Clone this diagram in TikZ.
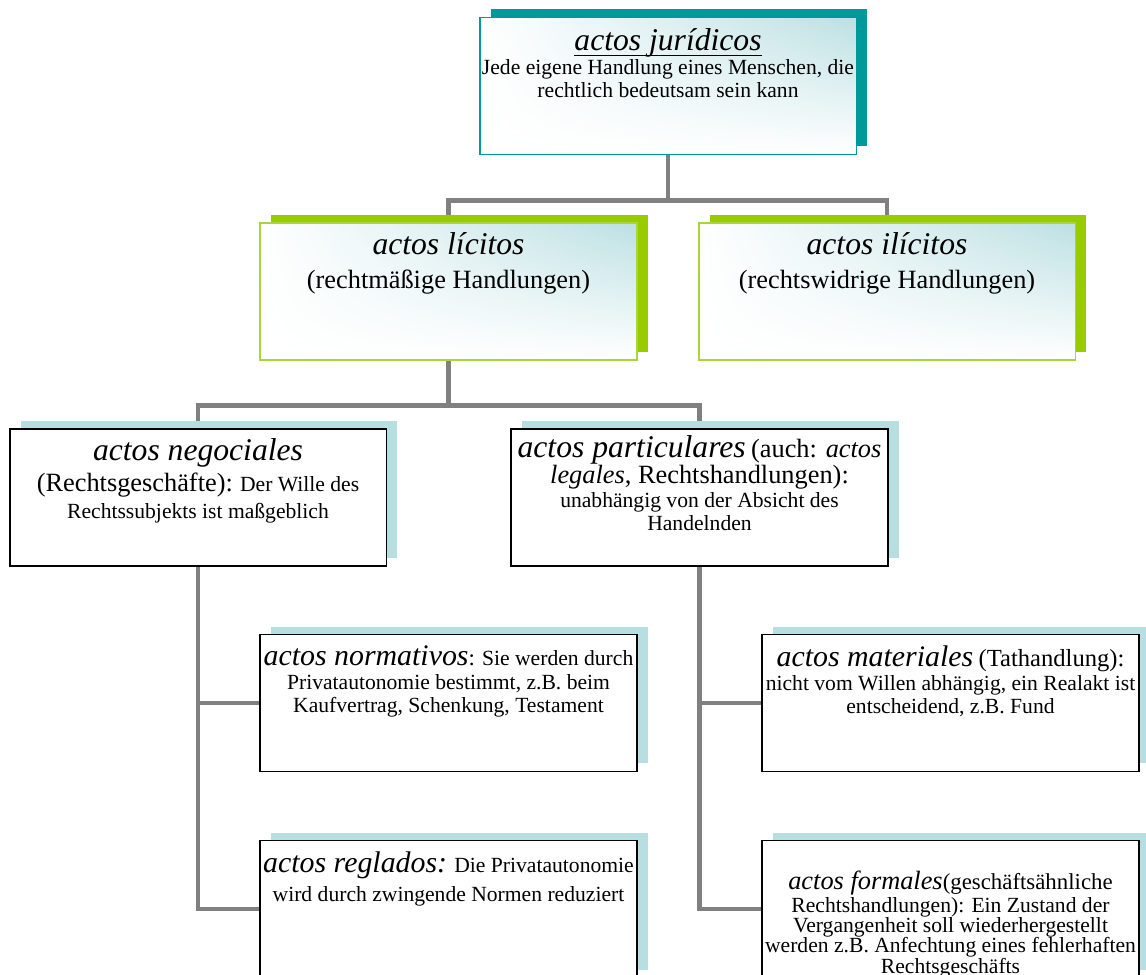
\documentclass[tikz,border=0pt]{standalone}
\usepackage{fontspec}
\setmainfont{Liberation Serif}
\usetikzlibrary{shadows,shadings,backgrounds}
\definecolor{tealdark}{HTML}{009999}
\definecolor{limegreen}{HTML}{99CC00}
\definecolor{limeborder}{HTML}{A8D43C}
\definecolor{paleblue}{HTML}{B7DEE0}
\definecolor{shadeblue}{HTML}{BCE0E3}
\definecolor{lineGray}{HTML}{808080}
\def\fs#1{\fontsize{#1}{#1}\selectfont}
\def\ulined#1{\leavevmode\setbox0\hbox{#1}\rlap{\rule[-3pt]{\wd0}{0.9pt}}\box0}
\def\boxtext#1{\begin{minipage}[c][2.74cm][t]{7.54cm}\centering\fontsize{12.3}{13.3}\selectfont\vspace*{5.5pt}#1\end{minipage}}

\begin{document}
\begin{tikzpicture}[x=0.02cm, y=-0.02cm,
    box/.style={rectangle, inner sep=0pt, line width=1.1pt},
    topbox/.style={box, draw=tealdark, upper right=shadeblue, upper left=white, lower left=white, lower right=white,
        general shadow={fill=tealdark, shadow xshift=0.22cm, shadow yshift=0.17cm}},
    greenbox/.style={box, draw=limeborder, upper right=shadeblue, upper left=white, lower left=white, lower right=white,
        general shadow={fill=limegreen, shadow xshift=0.22cm, shadow yshift=0.16cm}},
    plainbox/.style={box, draw=black, fill=white,
        general shadow={fill=paleblue, shadow xshift=0.22cm, shadow yshift=0.16cm}},
    conn/.style={draw=lineGray, line width=2.8pt}]
    %%%%% START %%%%%
    \useasboundingbox (0,0) rectangle (1146,974);
    \clip (0,0) rectangle (1146,974);

    \node[topbox] (jur) at (668,86) {\boxtext{\vspace*{1pt}\ulined{\fs{18}\itshape actos jurídicos}\\
        Jede eigene Handlung eines Menschen, die\\ rechtlich bedeutsam sein kann}};

    \node[greenbox] (lic) at (448.5,291.5) {\boxtext{{\fs{18}\itshape actos lícitos}\\[6pt]
        {\fs{15}(rechtmäßige Handlungen)}}};
    \node[greenbox] (ilic) at (887,291.5) {\boxtext{{\fs{18}\itshape actos ilícitos}\\[6pt]
        {\fs{15}(rechtswidrige Handlungen)}}};

    \node[plainbox] (neg) at (198,497.5) {\boxtext{{\fs{18}\itshape actos negociales}\\[2pt]
        {\fs{15}(Rechtsgeschäfte):} Der Wille des\\[2pt] Rechtssubjekts ist maßgeblich}};
    \node[plainbox] (part) at (699.5,497.5) {\boxtext{\vspace*{-2pt}{\fs{18}\itshape actos particulares} {\fs{15}(auch: \textit{actos}}\\
        {\fs{15}\textit{legales}, Rechtshandlungen):}\\ unabhängig von der Absicht des\\ Handelnden}};

    \node[plainbox] (norm) at (448.5,703) {\boxtext{\vspace*{1pt}{\fs{17}\itshape actos normativos}{\fs{13}:} Sie werden durch\\
        Privatautonomie bestimmt, z.B. beim\\ Kaufvertrag, Schenkung, Testament}};
    \node[plainbox] (mat) at (950.5,703) {\boxtext{\vspace*{1pt}{\fs{17}\itshape actos materiales} {\fs{14}(Tathandlung):}\\
        nicht vom Willen abhängig, ein Realakt ist\\ entscheidend, z.B. Fund}};

    \node[plainbox] (regl) at (448.5,909) {\boxtext{\vspace*{1pt}{\fs{17}\itshape actos reglados:} {\fs{12.3}Die Privatautonomie}\\[3pt]
        wird durch zwingende Normen reduziert}};
    \node[plainbox] (form) at (950.5,909) {\boxtext{\fontsize{12.3}{11.6}\selectfont\vspace*{12pt}{\fs{15}\itshape actos formales}{\fs{13}(geschäftsähnliche}\\
        Rechtshandlungen): Ein Zustand der\\ Vergangenheit soll wiederhergestellt\\
        werden z.B. Anfechtung eines fehlerhaften\\ Rechtsgeschäfts}};

    % tree lines
    \begin{scope}[on background layer]
        \draw[conn] (jur.south) -- ++(0,45) -| (lic.north);
        \draw[conn] (jur.south) -- ++(0,45) -| (ilic.north);
        \draw[conn] (lic.south) -- ++(0,45) -| (neg.north);
        \draw[conn] (lic.south) -- ++(0,45) -| (part.north);
        \draw[conn] (neg.south) |- (norm.west);
        \draw[conn] (neg.south) |- (regl.west);
        \draw[conn] (part.south) |- (mat.west);
        \draw[conn] (part.south) |- (form.west);
    \end{scope}
    %%%%% END %%%%%
\end{tikzpicture}
\end{document}
